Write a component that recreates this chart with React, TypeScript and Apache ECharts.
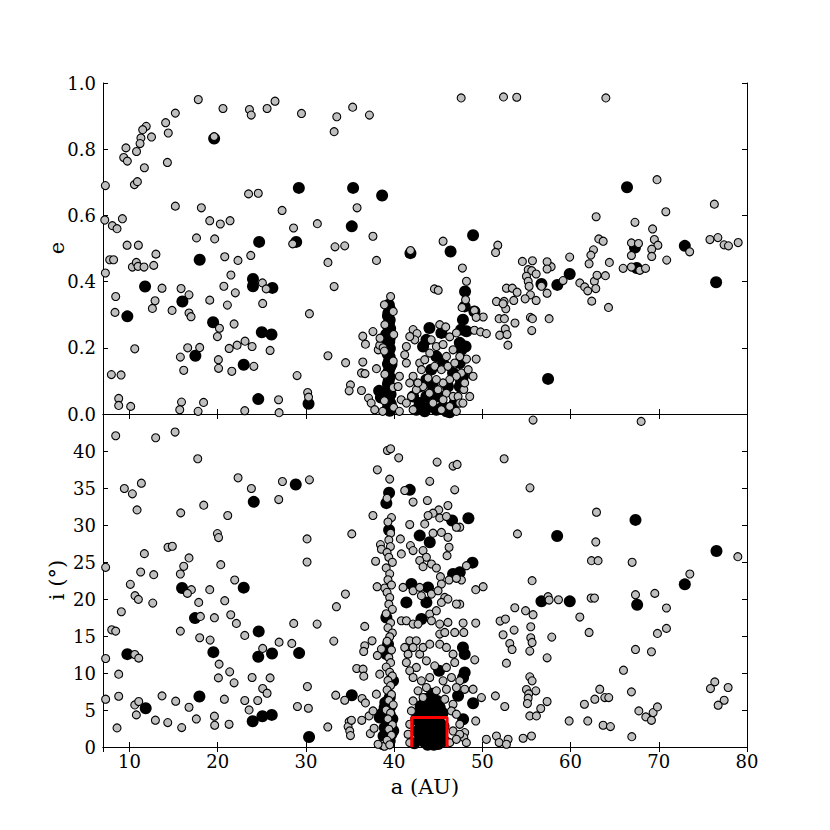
import React, { useEffect, useRef } from "react";
import * as echarts from "echarts";

// ---------- data ----------
const xTicks = [10, 20, 30, 40, 50, 60, 70, 80];
const eTicks = [0, 0.2, 0.4, 0.6, 0.8, 1.0];
const iTicks = [0, 5, 10, 15, 20, 25, 30, 35, 40];
const boxA = [42, 46];
const boxI = [0, 4];

// top panel: [a (AU), e]
const topGrey: number[][] = [
  [17.8,0.95],[20.6,0.923],[23.6,0.92],[23.8,0.903],[25.6,0.923],[26.5,0.945],[29.5,0.908],[33.5,0.898],[35.3,0.927],[37.2,0.903],[33.2,0.853],[15.2,0.909],[14.1,0.88],[14.4,0.849],[11.9,0.869],[11.5,0.859],[11.3,0.834],[11.2,0.817],[12.5,0.837],[10.8,0.793],[9.6,0.804],[9.35,0.775],[9.76,0.764],[11.69,0.744],[14.3,0.76],[19.6,0.838],[7.27,0.69],[10.56,0.693],[10.9,0.702],[23.5,0.665],[24.6,0.667],[15.2,0.628],[18.15,0.623],[27.3,0.615],[35.8,0.623],[7.2,0.586],[9.2,0.59],[8.06,0.569],[8.59,0.56],[19.1,0.584],[20.3,0.574],[21.4,0.584],[28.6,0.562],[31.3,0.575],[17.6,0.532],[19.66,0.529],[28.5,0.514],[33.3,0.505],[34.4,0.508],[37.6,0.537],[38.0,0.464],[9.73,0.51],[11.01,0.51],[7.76,0.466],[8.2,0.466],[13.0,0.483],[10.33,0.444],[10.78,0.458],[10.97,0.446],[11.65,0.444],[12.75,0.449],[7.27,0.426],[20.8,0.475],[22.3,0.464],[23.75,0.479],[32.5,0.458],[8.44,0.355],[8.36,0.307],[13.69,0.38],[12.9,0.342],[12.6,0.319],[15.85,0.379],[16.75,0.36],[14.83,0.313],[16.75,0.305],[16.98,0.294],[20.7,0.386],[21.5,0.42],[22.0,0.366],[21.1,0.329],[19.1,0.344],[25.07,0.396],[25.5,0.378],[25.1,0.334],[30.4,0.303],[33.2,0.385],[20.2,0.259],[19.97,0.234],[21.86,0.272],[10.6,0.197],[16.6,0.2],[17.96,0.201],[15.77,0.172],[20.08,0.164],[20.1,0.138],[16.15,0.132],[21.3,0.198],[22.2,0.208],[23.1,0.22],[23.9,0.204],[21.6,0.129],[24.1,0.144],[25.94,0.192],[32.5,0.176],[34.5,0.155],[36.45,0.235],[36.75,0.211],[37.6,0.249],[36.45,0.157],[36.3,0.124],[36.7,0.122],[38.0,0.137],[38.2,0.194],[38.37,0.208],[29.0,0.116],[35.05,0.088],[34.9,0.07],[36.3,0.071],[37.1,0.048],[7.95,0.119],[9.05,0.118],[8.78,0.047],[8.78,0.026],[10.14,0.023],[15.9,0.036],[15.7,0.013],[17.78,0.008],[18.4,0.035],[23.07,0.01],[26.9,0.043],[26.96,0.004],[30.2,0.065],[30.3,0.051],
  [47.6,0.955],[52.4,0.958],[53.9,0.957],[64.0,0.955],[69.8,0.708],[76.3,0.634],[70.8,0.611],[62.9,0.596],[67.3,0.579],[69.3,0.559],[51.75,0.51],[51.5,0.488],[63.2,0.529],[63.7,0.522],[62.6,0.496],[62.3,0.48],[62.1,0.454],[64.4,0.458],[66.9,0.517],[67.7,0.515],[69.5,0.527],[69.9,0.51],[69.2,0.498],[69.2,0.476],[66.9,0.479],[70.9,0.465],[73.5,0.49],[75.8,0.527],[76.7,0.533],[77.4,0.511],[77.9,0.508],[79.0,0.518],[65.96,0.44],[66.9,0.444],[67.85,0.434],[68.5,0.44],[59.9,0.474],[61.05,0.396],[61.6,0.384],[61.95,0.372],[62.7,0.401],[63.0,0.419],[62.86,0.379],[62.4,0.341],[63.95,0.418],[64.3,0.322],[59.15,0.403],[56.7,0.386],[57.34,0.365],[57.8,0.445],[57.34,0.46],[57.34,0.438],[54.54,0.461],[55.68,0.463],[55.2,0.436],[55.6,0.433],[56.1,0.423],[55.0,0.416],[55.2,0.401],[55.3,0.386],[55.45,0.36],[54.85,0.348],[56.1,0.343],[52.73,0.38],[53.4,0.38],[53.94,0.368],[51.6,0.34],[52.47,0.34],[52.66,0.318],[52.35,0.333],[53.56,0.343],[55.45,0.292],[55.68,0.288],[55.6,0.252],[57.57,0.288],[53.7,0.275],[51.9,0.288],[52.5,0.288],[52.6,0.257],[51.97,0.238],[52.8,0.24],[52.9,0.208],[49.1,0.313],[50.1,0.293],[49.3,0.292],[49.1,0.253],[49.8,0.248],[50.46,0.243],[49.3,0.166],[48.2,0.166],[48.2,0.401],[48.1,0.345],[47.9,0.074],
  [37.4,0.033],[37.8,0.013],[38.7,0.008],[38.4,0.229],[38.75,0.2],[41.85,0.494],[45.55,0.522],[47.74,0.441],[44.57,0.378],[45.0,0.374],[47.7,0.322],
  [39.6,0.355],[38.9,0.33],[39.9,0.31],[38.95,0.27],[39.95,0.24],[38.9,0.19],[39.9,0.16],[38.95,0.12],[39.9,0.08],[38.9,0.04],[39.95,0.02],
  [41.39,0.204],[42.15,0.255],[42.6,0.243],[42.34,0.224],[41.77,0.234],[41.39,0.154],[41.2,0.179],[42.15,0.114],[41.77,0.094],[40.6,0.114],[40.45,0.083],[40.8,0.043],[40.6,0.008],[42.9,0.154],[43.47,0.164],[43.1,0.134],[44.04,0.184],[44.79,0.204],[45.55,0.21],[45.17,0.27],[45.85,0.263],[46.3,0.233],[47.06,0.245],[45.93,0.174],[46.68,0.194],[44.2,0.224],[44.6,0.144],[45.36,0.134],[46.1,0.144],[46.87,0.154],[47.44,0.174],[47.63,0.124],[47.06,0.114],[46.3,0.104],[45.55,0.094],[44.79,0.104],[43.85,0.109],[43.28,0.083],[42.52,0.073],[42.7,0.094],[44.0,0.063],[44.98,0.073],[45.93,0.063],[46.68,0.053],[47.25,0.053],[47.44,0.033],[46.3,0.023],[47.06,0.008],[41.39,0.033],[41.96,0.053],[42.15,0.013],[44.4,0.033],[45.36,0.013],[45.55,0.043],[48.4,0.134],[48.0,0.094],[48.95,0.114],[48.57,0.053],[47.8,0.033]
];

const topBlack: number[][] = [
  [19.6,0.832],[29.2,0.683],[35.35,0.683],[38.64,0.66],[35.2,0.567],[24.7,0.52],[28.9,0.52],[17.96,0.466],[11.77,0.385],[9.76,0.295],[16.0,0.34],[24.0,0.408],[24.0,0.386],[26.2,0.381],[19.48,0.277],[25.0,0.247],[26.1,0.24],[17.47,0.176],[22.95,0.149],[24.6,0.045],[30.3,0.031],
  [66.4,0.685],[48.95,0.54],[67.3,0.503],[72.95,0.508],[76.5,0.398],[67.5,0.441],[59.9,0.423],[58.5,0.39],[56.7,0.393],[57.45,0.106],[48.04,0.37],[49.1,0.31],[48.2,0.25],[48.1,0.204],[47.6,0.099],[41.85,0.486],[46.4,0.491],
  [38.3,0.07],[38.5,0.05],
  [39.4,0.33],[39.5,0.318],[39.35,0.305],[39.3,0.296],[39.5,0.284],[39.42,0.275],[39.3,0.266],[39.55,0.258],[39.4,0.247],[39.3,0.236],[39.5,0.229],[39.45,0.218],[39.3,0.209],[39.52,0.198],[39.4,0.19],[39.28,0.181],[39.5,0.172],[39.42,0.16],[39.3,0.151],[39.55,0.142],[39.4,0.131],[39.28,0.122],[39.5,0.112],[39.38,0.1],[39.3,0.091],[39.55,0.081],[39.42,0.07],[39.6,0.06],[39.22,0.052],[39.45,0.04],[39.62,0.03],[39.3,0.02],[39.5,0.01],[39.0,0.06],[39.7,0.15],[39.1,0.24],
  [44.0,0.26],[43.66,0.224],[45.36,0.245],[47.44,0.154],[43.28,0.204],[44.79,0.174],[44.2,0.134],[45.55,0.154],[43.66,0.104],[42.9,0.083],[44.4,0.083],[45.17,0.053],[43.66,0.053],[42.9,0.033],[44.04,0.023],[44.79,0.013],[45.55,0.023],[42.52,0.013],[43.47,0.008],[45.93,0.008],[46.87,0.033],[44.4,0.053],[42.15,0.053],[46.1,0.083],[46.68,0.124],[46.3,0.005],
  [48.0,0.325],[47.8,0.285],[47.6,0.255],[47.44,0.215],[47.63,0.194],[47.82,0.114],[47.44,0.083]
];

// bottom panel: [a (AU), i (deg)]
const botGrey: number[][] = [
  [8.44,42.06],[12.97,41.79],[15.17,42.56],[17.74,38.95],[22.31,36.38],[23.82,34.93],[27.34,35.88],[30.4,36.1],[26.92,33.44],[9.42,34.93],[10.33,34.21],[11.35,35.65],[10.86,32.04],[15.81,31.64],[18.42,32.68],[21.14,31.28],[19.97,28.84],[20.1,28.3],[30.13,28.12],[35.2,28.8],[30.13,25.0],[38.1,37.46],[39.24,40.07],[37.6,31.28],[38.45,27.35],[38.56,26.72],[37.9,25.1],[14.37,26.99],[14.86,27.13],[11.69,26.13],[16.75,25.55],[16.15,24.42],[15.77,23.38],[7.3,24.28],[11.27,23.65],[12.75,23.29],[20.35,24.64],[10.1,21.98],[10.63,20.45],[11.01,19.95],[9.08,18.28],[12.64,19.45],[17.02,21.26],[16.57,20.76],[19.1,21.26],[17.85,19.54],[20.8,19.77],[21.93,22.57],[18.04,17.65],[19.63,17.47],[21.48,17.87],[22.12,16.7],[23.07,15.08],[28.62,16.7],[31.27,16.61],[33.46,18.96],[34.48,20.67],[36.67,16.3],[37.5,14.35],[33.16,14.31],[28.4,14.0],[26.96,14.17],[25.1,13.32],[7.99,15.84],[8.44,15.66],[15.77,15.66],[17.96,14.76],[19.14,14.45],[10.6,12.5],[11.05,12.01],[7.3,11.96],[20.16,11.2],[21.36,10.16],[21.86,8.67],[23.9,9.39],[25.94,9.34],[25.1,7.9],[25.6,7.27],[20.08,9.34],[8.78,9.84],[35.76,10.61],[36.48,10.52],[36.56,9.57],[38.1,12.37],[30.17,8.17],[7.3,6.46],[8.78,6.86],[10.6,5.69],[11.05,6.14],[10.78,4.34],[13.69,6.91],[15.24,6.19],[16.75,5.37],[20.76,6.46],[23.07,6.28],[24.54,6.28],[23.56,5.01],[29.04,5.47],[30.28,5.24],[33.38,7.0],[34.4,6.32],[36.37,6.55],[36.75,5.96],[37.16,4.2],[12.94,3.62],[14.34,3.3],[15.92,2.62],[17.58,3.79],[19.63,4.16],[19.66,2.94],[21.29,3.07],[8.59,2.58],[32.48,2.71],[34.9,3.43],[34.78,2.76],[34.97,2.17],[35.05,1.54],[35.16,3.61],[36.33,3.61],[37.3,1.81],[37.73,2.53],[38.75,0.37],[38.9,0.1],
  [55.75,44.18],[68.0,44.0],[52.47,38.95],[55.4,35.02],[62.94,31.73],[53.98,28.8],[62.86,27.71],[78.96,25.72],[62.37,25.18],[63.12,25.18],[66.98,24.96],[73.52,23.38],[48.2,24.5],[55.64,22.48],[49.25,21.26],[50.09,21.66],[57.45,20.31],[58.63,19.9],[57.57,19.86],[62.33,20.13],[62.71,20.13],[67.36,20.58],[69.55,20.76],[70.87,18.78],[61.05,17.56],[62.1,15.48],[69.85,15.35],[70.87,16.03],[67.36,13.18],[69.17,12.87],[66.0,10.38],[53.68,18.82],[54.9,18.42],[55.75,17.88],[52.01,17.02],[52.62,17.29],[53.6,15.8],[52.35,15.17],[55.49,16.25],[55.49,14.76],[55.64,14.13],[55.38,12.96],[53.11,13.99],[53.37,13.18],[52.73,11.33],[57.87,14.85],[57.34,12.05],[49.25,16.75],[47.82,16.75],[47.9,15.48],[49.14,11.78],[55.38,9.48],[55.64,8.94],[55.0,7.77],[56.06,7.59],[55.26,7.18],[55.19,6.6],[55.11,5.87],[57.34,6.14],[56.62,5.2],[55.38,4.2],[56.13,4.2],[51.48,6.91],[52.54,5.47],[49.9,6.68],[49.25,3.52],[50.46,1.04],[51.6,1.49],[51.9,0.6],[52.92,1.04],[52.73,0.37],[54.62,1.18],[55.57,1.49],[59.84,3.52],[61.95,3.52],[63.69,2.94],[64.52,2.76],[61.57,5.78],[62.75,6.46],[63.31,7.81],[63.88,6.68],[64.33,6.68],[66.9,7.45],[67.74,4.88],[68.53,4.07],[69.17,3.61],[69.36,4.65],[69.85,5.42],[66.94,1.4],[75.86,7.9],[76.35,8.8],[77.86,8.04],[77.41,6.32],[76.73,5.65],[48.0,7.8],[48.0,1.95],[47.9,1.27],[47.63,22.57],[47.44,29.7],[47.44,19.3],
  [39.6,40.3],[40.52,39.08],[44.87,38.5],[46.68,37.96],[47.14,38.18],[44.04,35.9],[41.2,34.66],[42.15,33.1],[43.77,33.31],[46.87,34.75],[46.1,32.63],[45.06,32.04],[44.41,31.6],[43.85,31.28],[45.17,30.96],[45.93,31.14],[47.06,29.7],[41.77,30.06],[43.47,30.15],[44.41,28.9],[45.36,29.0],[46.1,28.34],[46.23,26.99],[46.0,25.86],[40.71,28.12],[41.85,27.22],[42.15,26.54],[40.82,26.09],[43.28,26.54],[43.66,25.64],[42.9,25.2],[44.23,24.73],[43.28,24.37],[44.79,24.19],[45.25,23.02],[45.36,22.03],[46.23,22.57],[47.06,22.8],[41.01,21.57],[42.15,21.12],[42.9,21.57],[43.09,20.45],[44.23,20.67],[44.98,21.12],[45.74,20.22],[45.36,19.54],[46.1,19.99],[47.06,19.32],[40.82,17.06],[41.39,17.06],[42.15,16.61],[42.71,16.61],[44.04,17.97],[44.79,18.42],[44.23,17.06],[45.17,16.61],[46.1,16.84],[45.17,15.26],[45.74,15.48],[46.87,15.48],[41.77,14.35],[42.52,14.35],[42.15,13.45],[41.2,13.45],[41.58,12.55],[42.9,12.55],[43.28,13.45],[44.04,13.9],[45.17,13.9],[45.93,13.45],[46.68,12.55],[43.66,11.65],[44.6,10.97],[45.93,10.75],[46.87,11.42],[42.52,10.75],[41.77,10.3],[41.39,11.42],[42.15,9.39],[43.09,8.94],[44.04,9.39],[45.55,8.94],[46.5,9.39],[47.44,8.94],[42.71,7.59],[43.66,8.04],[44.79,7.59],[45.93,7.81],[47.06,8.04],[42.15,6.23],[43.28,6.68],[45.74,6.46],[46.68,5.78],[41.96,4.88],[46.5,4.88],[47.06,4.43],[47.44,3.07],[46.68,2.17],[47.44,1.72],[41.77,3.07],[41.58,1.72],[41.77,0.59],[46.3,0.59],[47.06,1.04],[48.19,0.59],[48.95,7.81],[36.67,13.68],[36.55,12.91],[38.37,9.84],[38.56,13.23],[37.99,7.14],[37.61,4.88],[38.18,0.37],[38.93,21.48],[38.07,21.66],
  [39.5,36.2],[39.2,33.6],[39.7,31.0],[39.3,30.4],[39.6,28.9],[39.4,27.98],[39.58,27.08],[39.2,26.3],[39.4,25.64],[39.8,24.96],[39.1,24.2],[39.5,23.4],[39.3,22.6],[39.7,21.9],[39.2,20.9],[39.5,20.2],[39.4,19.3],[39.8,18.6],[39.1,18.0],[39.6,16.8],[39.3,16.1],[39.8,15.4],[39.5,14.9],[39.2,14.3],[39.7,13.1],[39.4,12.1],[39.6,11.4],[39.1,10.8],[39.5,10.1],[39.8,9.6],[39.3,9.0],[39.6,8.3],[39.2,7.7],[39.7,7.1],[39.4,6.3],[39.9,5.7],[39.1,5.0],[39.6,4.6],[39.3,3.8],[39.8,3.0],[39.4,2.4],[39.7,1.6],[39.2,0.9],[39.5,0.3]
];

const botBlack: number[][] = [
  [28.85,35.47],[24.09,33.13],[15.96,21.48],[22.95,21.53],[17.43,17.42],[24.65,15.62],[19.51,12.82],[24.6,12.19],[26.16,12.64],[29.23,12.69],[9.76,12.55],[11.84,5.24],[17.93,6.82],[35.2,7.0],[25.07,4.16],[26.13,4.34],[23.97,3.48],[30.36,1.36],
  [67.36,30.69],[48.42,30.92],[58.48,28.52],[76.54,26.49],[72.95,21.98],[48.88,24.91],[56.7,19.68],[59.91,19.68],[67.55,19.23],[48.95,5.92],
  [41.77,34.75],[39.43,34.35],[39.12,32.95],[39.43,29.34],[42.9,28.57],[44.04,27.67],[46.57,30.6],[47.44,23.6],[46.68,23.38],[41.96,22.03],[43.85,21.57],[41.39,19.54],[43.66,19.54],[43.09,17.29],[39.12,17.5],[39.31,13.9],[39.12,12.55],[47.8,13.45],[48.0,12.55],[45.1,10.3],[48.0,10.07],[47.82,9.39],[39.88,8.94],[47.25,6.91],[44.41,5.78],[43.66,5.33],[45.17,5.33],[47.82,3.75],[39.5,6.68],[38.93,5.33],[39.5,4.43],[38.37,3.97],[38.93,2.62],[39.69,1.72],[38.75,0.37],[39.0,6.0],[39.6,5.5],[38.6,4.5],[39.8,3.8],[39.3,3.2],[38.8,1.5],[39.5,0.8],[39.9,2.2],
  [42.3,0.5],[42.6,2.1],[42.9,3.3],[43.0,1.2],[43.3,2.5],[43.5,0.6],[43.7,3.5],[43.9,1.8],[44.1,2.9],[44.2,0.9],[44.4,3.8],[44.6,1.5],[44.8,2.6],[45.0,0.4],[45.2,3.2],[45.4,1.9],[45.6,2.8],[43.2,4.3],[44.0,4.6],[44.7,4.2],[42.5,3.8],[45.7,0.8],[43.8,0.3],[44.5,0.3],
  [43.5,6.5],[44.3,7.2],[43.0,5.5],[44.9,6.2],[42.7,4.5],[45.5,4.6]
];

// ---------- component ----------
const FONT = "DejaVu Serif";

export default function App() {
  const ref = useRef<HTMLDivElement>(null);

  useEffect(() => {
    if (!ref.current) return;
    const chart = echarts.init(ref.current, null, { renderer: "svg" });

    const tick = { show: true, inside: true, length: 5, lineStyle: { color: "#000", width: 1 } };
    const line = { show: true, lineStyle: { color: "#000", width: 1 } };
    const lbl = { color: "#000", fontFamily: FONT, fontSize: 18 };

    const xBase = { type: "value", min: 7, max: 80, splitNumber: 7, splitLine: { show: false }, axisLine: line, axisTick: tick };

    const grey = { color: "#bfbfbf", borderColor: "#000", borderWidth: 1.1, opacity: 1 };
    const black = { color: "#000", opacity: 1 };

    const option: any = {
      animation: false,
      backgroundColor: "#fff",
      grid: [
        { left: 103, top: 83, width: 644, height: 331 },
        { left: 103, top: 414, width: 644, height: 333 },
      ],
      xAxis: [
        { ...xBase, gridIndex: 0, position: "bottom", axisLabel: { show: false } },
        { ...xBase, gridIndex: 0, position: "top", axisLabel: { show: false } },
        { ...xBase, gridIndex: 1, position: "bottom", axisLabel: { ...lbl, margin: 5, showMinLabel: false, formatter: (v: number) => (xTicks.includes(v) ? String(v) : "") } },
        { ...xBase, gridIndex: 1, position: "top", axisLabel: { show: false } },
      ],
      yAxis: [
        { type: "value", gridIndex: 0, position: "left", min: 0, max: 1, interval: 0.2, splitLine: { show: false }, axisLine: line, axisTick: tick,
          axisLabel: { ...lbl, margin: 7, formatter: (v: number) => (eTicks.some((t) => Math.abs(t - v) < 1e-9) ? v.toFixed(1) : "") } },
        { type: "value", gridIndex: 0, position: "right", min: 0, max: 1, interval: 0.2, splitLine: { show: false }, axisLine: line, axisTick: tick, axisLabel: { show: false } },
        { type: "value", gridIndex: 1, position: "left", min: 0, max: 45, interval: 5, splitLine: { show: false }, axisLine: line, axisTick: tick,
          axisLabel: { ...lbl, margin: 7, showMaxLabel: false, formatter: (v: number) => (iTicks.includes(v) ? String(v) : "") } },
        { type: "value", gridIndex: 1, position: "right", min: 0, max: 45, interval: 5, splitLine: { show: false }, axisLine: line, axisTick: tick, axisLabel: { show: false } },
      ],
      series: [
        { type: "scatter", xAxisIndex: 0, yAxisIndex: 0, data: topBlack, symbolSize: 12, itemStyle: black, z: 2 },
        { type: "scatter", xAxisIndex: 0, yAxisIndex: 0, data: topGrey, symbolSize: 8, itemStyle: grey, z: 3 },
        { type: "scatter", xAxisIndex: 2, yAxisIndex: 2, data: botBlack, symbolSize: 12, itemStyle: black, z: 2 },
        { type: "scatter", xAxisIndex: 2, yAxisIndex: 2, data: botGrey, symbolSize: 8, itemStyle: grey, z: 3 },
        { type: "line", xAxisIndex: 2, yAxisIndex: 2, z: 5, symbol: "none", clip: false,
          data: [[boxA[0], boxI[0]], [boxA[0], boxI[1]], [boxA[1], boxI[1]], [boxA[1], boxI[0]]],
          lineStyle: { color: "#ff0000", width: 3 } },
      ],
      graphic: [
        { type: "text", x: 57, y: 248, rotation: Math.PI / 2, style: { text: "e", fill: "#000", fontFamily: FONT, fontSize: 21, textAlign: "center", textVerticalAlign: "middle" } },
        { type: "text", x: 57, y: 580, rotation: Math.PI / 2, style: { text: "i (°)", fill: "#000", fontFamily: FONT, fontSize: 21, textAlign: "center", textVerticalAlign: "middle" } },
        { type: "text", x: 425, y: 787, style: { text: "a (AU)", fill: "#000", fontFamily: FONT, fontSize: 21, textAlign: "center", textVerticalAlign: "middle" } },
      ],
    };

    chart.setOption(option);
    return () => chart.dispose();
  }, []);

  return <div ref={ref} style={{ width: 830, height: 830, margin: -8 }} />;
}
